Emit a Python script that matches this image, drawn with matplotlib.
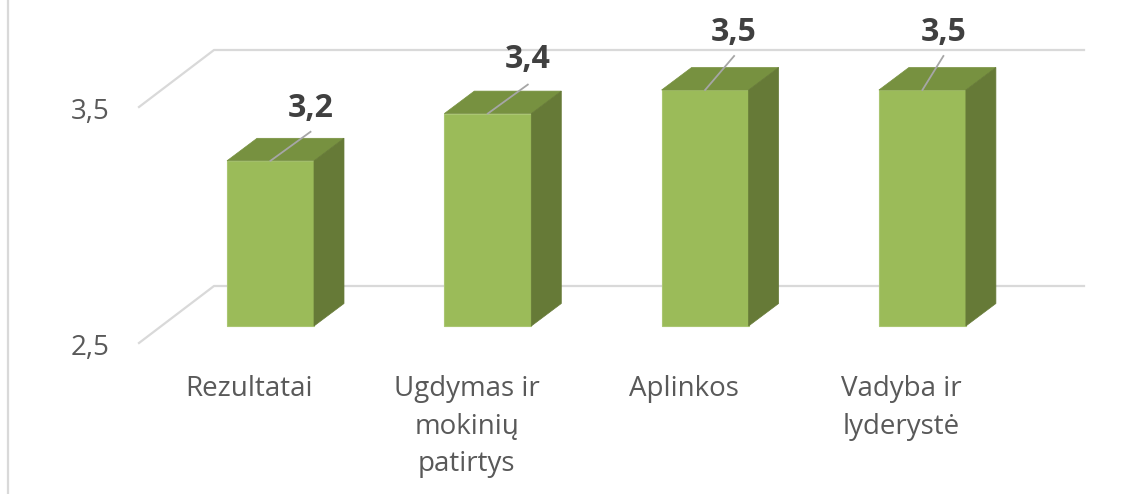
import matplotlib
matplotlib.use("Agg")
from matplotlib import pyplot as plt
from matplotlib.patches import Polygon

categories = ["Rezultatai", "Ugdymas ir\nmokinių\npatirtys", "Aplinkos", "Vadyba ir\nlyderystė"]
values = [3.2, 3.4, 3.5, 3.5]
value_labels = ["3,2", "3,4", "3,5", "3,5"]
grid_values = [2.5, 3.5]
grid_labels = ["2,5", "3,5"]

W, H = 1147, 494
PX_X = 217.3    # pixels per category
PX_Y = 236.0    # pixels per 1.0 of value
X0, Y0 = 270.5, 326.0  # pixel of first bar centre, value 2.5

# 3d look, in pixels
BAR_W = 87
DEPTH_X, DEPTH_Y = 30, 22.5
WALL_X, WALL_Y = 75, 57
AXIS_LEFT = 139
AXIS_DROP = 17
RIGHT = 1084

FONT = "Open Sans"
GREY = "#d9d9d9"


def dx(px):
    return px / PX_X


def dy(px):
    return px / PX_Y


fig = plt.figure(figsize=(W / 100, H / 100), dpi=100)
ax = fig.add_axes([0, 0, 1, 1])
ax.set_xlim(-X0 / PX_X, (W - X0) / PX_X)
ax.set_ylim(2.5 - (H - Y0) / PX_Y, 2.5 + Y0 / PX_Y)
ax.axis("off")

# left border of the picture
x_border = dx(8 - X0)
ax.plot([x_border, x_border], ax.get_ylim(), color=GREY, lw=1.6, zorder=1)

# gridlines: slanted floor/side part, then along the back wall
x_left = dx(AXIS_LEFT - X0)
x_back = x_left + dx(WALL_X)
x_right = dx(RIGHT - X0)
for v, lab in zip(grid_values, grid_labels):
    y_front = v - dy(AXIS_DROP)
    y_back = y_front + dy(WALL_Y)
    ax.plot([x_left, x_back, x_right], [y_front, y_back, y_back], color=GREY, lw=1.6, zorder=1,
            solid_joinstyle="miter")
    ax.text(dx(90.5 - X0), v - dy(AXIS_DROP) - dy(5), lab, ha="center", va="center",
            family=FONT, fontsize=20, color="#595959")

# bars
half = dx(BAR_W) / 2
for i, v in enumerate(values):
    l, r = i - half, i + half
    ox, oy = dx(DEPTH_X), dy(DEPTH_Y)
    ax.add_patch(Polygon([(l, 2.5), (r, 2.5), (r, v), (l, v)], facecolor="#9bbb59",
                         edgecolor="#aac672", lw=0.8, zorder=3))
    ax.add_patch(Polygon([(l, v), (r, v), (r + ox, v + oy), (l + ox, v + oy)], facecolor="#779140",
                         edgecolor="#779140", lw=0.5, zorder=3))
    ax.add_patch(Polygon([(r, 2.5), (r + ox, 2.5 + oy), (r + ox, v + oy), (r, v)], facecolor="#667a37",
                         edgecolor="#667a37", lw=0.5, zorder=3))

# value labels with leader lines
label_shift_x = [40, 40, 29, 21]
leader_rise = [29, 29, 34, 34]
label_rise = [52, 54, 58, 58]
for i, v in enumerate(values):
    sx = dx(label_shift_x[i])
    ax.plot([i, i + sx], [v, v + dy(leader_rise[i])], color="#a6a6a6", lw=1.3, zorder=4)
    ax.text(i + sx, v + dy(label_rise[i]), value_labels[i], ha="center", va="center",
            family=FONT, fontsize=23, fontweight="bold", color="#404040", zorder=5)

# category labels
for i, c in enumerate(categories):
    ax.text(i - dx(21), 2.5 - dy(49), c, ha="center", va="top", family=FONT, fontsize=20,
            color="#595959", linespacing=1.46)

fig.savefig("out.png", dpi=100)
